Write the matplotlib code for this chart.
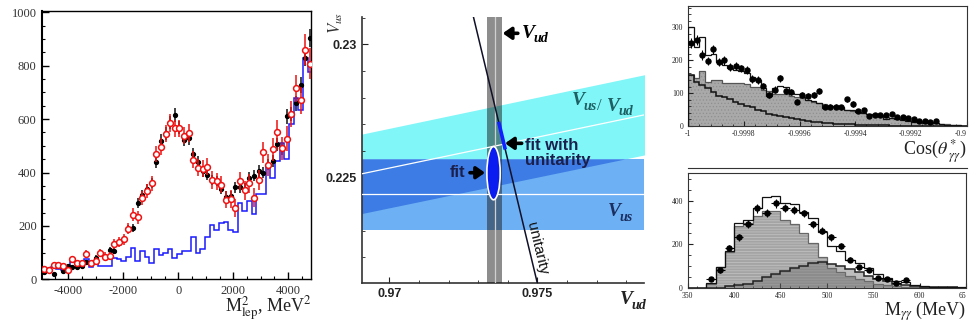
import numpy as np
import matplotlib
matplotlib.use("Agg")
import matplotlib.pyplot as plt
from matplotlib.patches import Ellipse
from matplotlib.ticker import MultipleLocator
from matplotlib.lines import Line2D

plt.rcParams['mathtext.fontset'] = 'stix'
plt.rcParams['axes.unicode_minus'] = False
plt.rcParams['hatch.linewidth'] = 0.5
SERIF = ['Liberation Serif', 'DejaVu Serif']
SANS = ['Liberation Sans', 'DejaVu Sans']

# ---------------- panel 1 : M^2_lep ----------------
lep_first_center = -4873.0
lep_bin_width = 169.5
lep_black = [29, 37, 20, 50, 31, 50, 46, 47, 50, 65, 60, 81, 97, 85, 110, 105, 137, 150, 187, 192,
             285, 316, 337, 361, 438, 519, 547, 587, 615, 568, 522, 528, 468, 441, 405, 392, 372, 368, 338, 310,
             312, 345, 345, 340, 380, 388, 405, 400, 430, 442, 505, 490, 610, 620, 660, 727, 830, 905]
lep_black_err = [6, 7, 5, 8, 7, 8, 8, 8, 8, 9, 9, 10, 11, 10, 11, 11, 13, 13, 15, 15,
                 18, 19, 19, 20, 22, 24, 24, 25, 26, 25, 24, 24, 23, 22, 21, 21, 20, 20, 19, 19,
                 19, 20, 20, 20, 21, 21, 22, 22, 22, 23, 24, 24, 27, 27, 28, 30, 32, 34]
lep_red = [40, 35, 52, 55, 50, 35, 75, 60, 62, 95, 60, 70, 98, 85, 88, 132, 140, 150, 190, 242,
           232, 305, 330, 360, 470, 497, 545, 585, 565, 565, 538, 548, 448, 418, 415, 422, 372, 368, 355, 298,
           300, 268, 368, 333, 360, 305, 372, 475, 428, 487, 553, 490, 527, 620, 715, 670, 860, 808]
lep_red_err = [10, 10, 11, 11, 11, 10, 13, 12, 12, 15, 13, 14, 16, 16, 16, 19, 19, 20, 22, 24,
               24, 26, 27, 28, 30, 31, 32, 33, 33, 33, 33, 34, 32, 32, 32, 33, 32, 32, 32, 32,
               33, 33, 35, 35, 36, 36, 38, 40, 40, 42, 44, 44, 46, 48, 52, 52, 58, 58]
lep_blue = [40, 40, 45, 40, 35, 45, 65, 60, 60, 75, 45, 60, 48, 48, 48, 80, 75, 70, 85, 118,
            68, 105, 85, 60, 112, 92, 98, 112, 80, 95, 105, 105, 158, 100, 115, 160, 205, 185, 210, 215,
            185, 178, 285, 255, 295, 245, 320, 320, 420, 380, 445, 510, 450, 580, 680, 635, 830, 775]

# ---------------- panel 2 : Vud - Vus ----------------
vud_center, vud_halfwidth = 0.97356, 0.00025
vus_center, vus_halfwidth = 0.22436, 0.00133
ratio_center, ratio_halfwidth = 0.23232, 0.00154
fit_vud, fit_vus = 0.97352, 0.22516
fit_vud_size, fit_vus_size = 0.00045, 0.0020
unitarity_vud = [0.97284, 0.97500]
unitarity_vus = [0.23104, 0.22102]
fit_unitarity_vus = [0.22605, 0.22709]
vud_ticks = [0.97, 0.975]
vud_ticklabels = ['0.97', '0.975']
vus_ticks = [0.225, 0.23]
vus_ticklabels = ['0.225', '0.23']

# ---------------- panel 3 : cos(theta*) ----------------
cos_edges = np.linspace(-1.0, -0.999, 51)
cos_total = [302, 240, 272, 215, 218, 195, 185, 175, 170, 168, 160, 150, 140, 115, 92, 115, 122, 118, 100, 98,
             88, 80, 75, 70, 55, 60, 60, 58, 50, 48, 42, 40, 36, 32, 33, 20, 25, 20, 18, 15,
             12, 12, 10, 12, 8, 6, 4, 3, 2, 1]
cos_bkg = [155, 146, 167, 135, 140, 140, 130, 130, 130, 130, 128, 118, 118, 111, 105, 97, 97, 97, 92, 88,
           85, 80, 72, 69, 66, 60, 58, 54, 50, 46, 42, 40, 36, 33, 30, 28, 25, 23, 20, 18,
           16, 14, 12, 10, 9, 7, 5, 4, 2, 1]
cos_sig = [155, 135, 125, 115, 104, 92, 89, 82, 74, 67, 62, 57, 50, 45, 38, 33, 30, 27, 23, 20,
           18, 16, 13, 12, 10, 8, 7, 6, 6, 5, 4, 3, 3, 2, 2, 2, 1, 1, 1, 1,
           1, 1, 0, 0, 0, 0, 0, 0, 0, 0]
cos_data = [253, 261, 216, 198, 233, 194, 200, 180, 182, 175, 170, 143, 140, 122, 94, 111, 145, 106, 104, 74,
            94, 92, 94, 107, 59, 59, 59, 57, 81, 67, 46, 49, 30, 33, 33, 33, 38, 26, 26, 23,
            21, 16, 16, 12, 16]
cos_data_err = [15, 15, 14, 13, 14, 13, 13, 12, 12, 12, 12, 11, 11, 10, 9, 10, 11, 9, 9, 8,
                9, 9, 9, 10, 7, 7, 7, 7, 8, 8, 6, 6, 5, 5, 5, 5, 6, 5, 5, 5,
                4, 4, 4, 3, 4]
cos_ticks = [-1.0, -0.9998, -0.9996, -0.9994, -0.9992, -0.999]
cos_ticklabels = ['-1', '-0.9998', '-0.9996', '-0.9994', '-0.9992', '-0.9']

# ---------------- panel 4 : M_gammagamma ----------------
mgg_edges = np.arange(350, 651, 10)
mgg_total = [0, 0, 23, 94, 170, 296, 312, 368, 418, 422, 392, 385, 350, 319, 258, 190, 170, 129, 111, 88,
             61, 46, 30, 24, 10, 6, 4, 3, 2, 1]
mgg_bkg = [0, 0, 15, 94, 165, 285, 300, 330, 355, 352, 312, 292, 250, 204, 140, 90, 70, 55, 40, 28,
           18, 12, 7, 4, 2, 1, 0, 0, 0, 0]
mgg_sig = [0, 0, 0, 0, 5, 10, 18, 30, 50, 62, 75, 88, 100, 115, 120, 110, 100, 85, 70, 55,
           40, 30, 18, 10, 5, 3, 2, 1, 1, 0]
mgg_data_x = [375, 385, 395, 405, 415, 425, 435, 445, 455, 465, 475, 485, 495, 505, 515, 525, 535, 545,
              555, 565, 575, 585]
mgg_data = [38, 79, 182, 231, 293, 365, 345, 388, 368, 357, 342, 292, 263, 231, 193, 129, 94, 79, 46, 41, 23, 35]
mgg_data_err = [8, 10, 14, 15, 17, 19, 19, 20, 19, 19, 18, 17, 16, 15, 14, 11, 10, 9, 7, 6, 5, 6]
mgg_ticks = [350, 400, 450, 500, 550, 600, 650]
mgg_ticklabels = ['350', '400', '450', '500', '550', '600', '65']

fig = plt.figure(figsize=(9.69, 3.23), dpi=100)

# =============== panel 1 ===============
ax1 = fig.add_axes([0.04365, 0.1353, 0.2776, 0.8306])
lep_x = lep_first_center + lep_bin_width * np.arange(len(lep_black))
lep_edges = np.append(lep_x - lep_bin_width / 2, lep_x[-1] + lep_bin_width / 2)
ax1.stairs(lep_blue, lep_edges, color='#1a1aff', lw=1.1, baseline=None)
ax1.errorbar(lep_x, lep_black, yerr=lep_black_err, fmt='o', ms=2.8, color='black',
             ecolor='#222222', elinewidth=1.2, capsize=0, zorder=3)
ax1.errorbar(lep_x, lep_red, yerr=lep_red_err, fmt='o', ms=4.2, mfc='white', mec='#ee1111',
             mew=1.1, ecolor='#ee1111', elinewidth=1.1, capsize=0, zorder=4)
ax1.set_xlim(-4950, 4840)
ax1.set_ylim(0, 1005)
ax1.yaxis.set_major_locator(MultipleLocator(200))
ax1.yaxis.set_minor_locator(MultipleLocator(50))
ax1.xaxis.set_major_locator(MultipleLocator(2000))
ax1.xaxis.set_minor_locator(MultipleLocator(500))
ax1.tick_params(which='both', direction='in', top=False, right=False, labelsize=9, pad=4)
ax1.tick_params(which='major', length=5, width=1)
ax1.tick_params(which='minor', length=2.5, width=0.8)
for lab in ax1.get_xticklabels() + ax1.get_yticklabels():
    lab.set_family(SERIF)
    lab.set_color('#333333')
for s in ax1.spines.values():
    s.set_linewidth(1.0)
ax1.spines['left'].set_linewidth(1.5)
ax1.text(1.0, -0.112, r'M$^2_{\rm lep}$, MeV$^2$', transform=ax1.transAxes, ha='right', va='center',
         fontsize=13, family=SERIF, color='#222222')

# =============== panel 2 ===============
ax2 = fig.add_axes([0.3733, 0.1229, 0.2913, 0.8254])
x0, x1 = 0.96907, 0.9786
ax2.set_xlim(x0, x1)
ax2.set_ylim(0.22102, 0.23104)
g = np.linspace(x0 - 0.001, x1 + 0.001, 500)
cy_lo = (ratio_center - ratio_halfwidth) * g
cy_hi = (ratio_center + ratio_halfwidth) * g
c_cyan, c_light, c_dark = '#80f6f8', '#6eb0f4', '#3c7ce4'
ax2.fill_between(g, cy_lo, cy_hi, color=c_cyan, lw=0, zorder=1)
ax2.axhspan(vus_center - vus_halfwidth, vus_center + vus_halfwidth, color=c_light, lw=0, zorder=1)
ov_lo = np.maximum(cy_lo, vus_center - vus_halfwidth)
ov_hi = np.minimum(cy_hi, vus_center + vus_halfwidth)
ax2.fill_between(g, ov_lo, ov_hi, where=ov_hi > ov_lo, color=c_dark, lw=0, zorder=2)
ax2.axvspan(vud_center - vud_halfwidth, vud_center + vud_halfwidth, color='#1c1c1c', alpha=0.5, lw=0, zorder=3)
ax2.plot(g, ratio_center * g, color='white', lw=0.9, zorder=4)
ax2.axhline(vus_center, color='white', lw=0.9, zorder=4)
ax2.axvline(vud_center, color='#d0d0d0', lw=0.9, zorder=4)
ax2.add_patch(Ellipse((fit_vud, fit_vus), fit_vud_size, fit_vus_size, facecolor='#0a1cf0',
                      edgecolor='white', lw=1.2, zorder=5))
ax2.axline((unitarity_vud[0], unitarity_vus[0]), (unitarity_vud[1], unitarity_vus[1]),
           color='#101028', lw=1.1, zorder=6)
fu_vud = np.interp(fit_unitarity_vus, unitarity_vus[::-1], unitarity_vud[::-1])
ax2.plot(fu_vud, fit_unitarity_vus, color='#1020ff', lw=2.6, zorder=7, solid_capstyle='butt')
ax2.set_xticks(vud_ticks, vud_ticklabels)
ax2.set_yticks(vus_ticks, vus_ticklabels)
ax2.xaxis.set_minor_locator(MultipleLocator(0.001))
ax2.yaxis.set_minor_locator(MultipleLocator(0.001))
ax2.tick_params(which='both', direction='in', labelsize=9, colors='#222222')
ax2.tick_params(which='major', length=4)
ax2.tick_params(which='minor', length=2.5)
for lab in ax2.get_xticklabels() + ax2.get_yticklabels():
    lab.set_family(SANS)
    lab.set_weight('bold')
ax2.spines['top'].set_visible(False)
ax2.spines['right'].set_visible(False)
for s in ('left', 'bottom'):
    ax2.spines[s].set_linewidth(1.2)
    ax2.spines[s].set_color('#333333')


def vlabel(ax, x, y, sub, size, color):
    t = ax.text(x, y, 'V', transform=ax.transAxes, ha='left', va='center', fontsize=size,
                family=SERIF, style='italic', weight='bold', color=color, zorder=10)
    s = ax.annotate(sub, xy=(0.92, 0.18), xycoords=t, ha='left', va='center', fontsize=size * 0.72,
                    family=SERIF, style='italic', weight='bold', color=color, zorder=10)
    return t, s


arrow_kw = dict(arrowstyle='-|>,head_width=0.35,head_length=0.5', lw=2.6, color='black',
                shrinkA=0, shrinkB=0)
# V_ud at top
vlabel(ax2, 0.567, 0.937, 'ud', 14, 'black')
ax2.annotate('', xy=(0.4995, 0.9377), xytext=(0.553, 0.9377), xycoords='axes fraction',
             arrowprops=arrow_kw, zorder=10)
# Vus / Vud
t, s = vlabel(ax2, 0.745, 0.684, 'us', 14, '#1d5f63')
sl = ax2.annotate('/', xy=(1.0, 0.5), xycoords=s, ha='left', va='center', fontsize=12,
                  family=SERIF, color='#1d5f63', zorder=10)
t2 = ax2.annotate(' V', xy=(1.0, 0.5), xycoords=sl, ha='left', va='center', fontsize=14, family=SERIF,
                  style='italic', weight='bold', color='#1d5f63', zorder=10)
ax2.annotate('ud', xy=(0.95, 0.18), xycoords=t2, ha='left', va='center', fontsize=10, family=SERIF,
             style='italic', weight='bold', color='#1d5f63', zorder=10)
# V_us lower right
vlabel(ax2, 0.8725, 0.2686, 'us', 14, '#1a2f60')
# fit with unitarity
ax2.text(0.5787, 0.4895, 'fit with\nunitarity', transform=ax2.transAxes, ha='left', va='center',
         fontsize=12, family=SANS, weight='bold', color='#1b1f4b', linespacing=1.05, zorder=10)
ax2.annotate('', xy=(0.5076, 0.525), xytext=(0.5666, 0.525), xycoords='axes fraction',
             arrowprops=arrow_kw, zorder=10)
# fit
ax2.text(0.3128, 0.4148, 'fit', transform=ax2.transAxes, ha='left', va='center',
         fontsize=12, family=SANS, weight='bold', color='#1b1f4b', zorder=10)
ax2.annotate('', xy=(0.4368, 0.4148), xytext=(0.3836, 0.4148), xycoords='axes fraction',
             arrowprops=arrow_kw, zorder=10)
# unitarity label along the line
ax2.text(0.620, 0.131, 'unitarity', transform=ax2.transAxes, ha='center', va='center',
         rotation=-76.5, fontsize=11, family=SANS, color='#111111', zorder=10)
# axis labels
vlabel(ax2, 0.913, -0.062, 'ud', 14, '#222222')
ax2.text(-0.092, 0.975, r'$V_{us}$', transform=ax2.transAxes, ha='center', va='center',
         rotation=90, fontsize=12, color='#333333')

# =============== panel 3 ===============
ax3 = fig.add_axes([0.7103, 0.6099, 0.2873, 0.3715])
ax3.stairs(cos_bkg, cos_edges, fill=True, facecolor='#a9a9a9', edgecolor='#8f8f8f', hatch='.....',
           lw=0, zorder=1)
ax3.stairs(cos_bkg, cos_edges, color='#555555', lw=0.9, zorder=2)
ax3.stairs(cos_sig, cos_edges, color='#111111', lw=1.1, zorder=3)
ax3.stairs(cos_total, cos_edges, color='#111111', lw=0.9, zorder=3)
cos_x = 0.5 * (cos_edges[:-1] + cos_edges[1:])[:len(cos_data)]
ax3.errorbar(cos_x, cos_data, yerr=cos_data_err, xerr=0.000006, fmt='o', ms=3.6, color='black',
             elinewidth=0.8, capsize=0, zorder=5)
ax3.set_xlim(-1.0, -0.999)
ax3.set_ylim(0, 365)
ax3.set_xticks(cos_ticks, cos_ticklabels)
ax3.get_xticklabels()[-1].set_horizontalalignment('right')
ax3.xaxis.set_minor_locator(MultipleLocator(0.00004))
ax3.yaxis.set_major_locator(MultipleLocator(100))
ax3.yaxis.set_minor_locator(MultipleLocator(20))
ax3.tick_params(which='both', direction='in', labelsize=5.5, colors='#222222')
ax3.tick_params(axis='x', pad=3)
ax3.tick_params(axis='y', pad=3.5)
ax3.tick_params(which='major', length=3.5)
ax3.tick_params(which='minor', length=1.8)
for lab in ax3.get_xticklabels() + ax3.get_yticklabels():
    lab.set_family(SERIF)
for s in ax3.spines.values():
    s.set_linewidth(0.8)
    s.set_color('#333333')
ax3.text(1.0, -0.21, r'Cos($\theta^*_{\ \gamma\gamma}$)', transform=ax3.transAxes, ha='right',
         va='center', fontsize=13, family=SERIF, color='#222222')
fig.add_artist(Line2D([0.7103, 0.998], [1 - 168.3 / 323, 1 - 168.3 / 323], color='#333333', lw=0.8))

# =============== panel 4 ===============
ax4 = fig.add_axes([0.7097, 0.1099, 0.2872, 0.3554])
ax4.stairs(mgg_bkg, mgg_edges, fill=True, facecolor='#a4a4a4', edgecolor='#c4c4c4', hatch='------',
           lw=0, zorder=1)
ax4.stairs(mgg_bkg, mgg_edges, color='#666666', lw=0.9, zorder=2)
ax4.stairs(mgg_sig, mgg_edges, fill=True, facecolor='#707070', alpha=0.45, lw=0, zorder=3)
ax4.stairs(mgg_sig, mgg_edges, color='#222222', lw=1.1, zorder=4)
ax4.stairs(mgg_total, mgg_edges, color='#111111', lw=0.9, zorder=4)
ax4.errorbar(mgg_data_x, mgg_data, yerr=mgg_data_err, xerr=5, fmt='o', ms=3.6, color='black',
             elinewidth=0.8, capsize=0, zorder=5)
ax4.set_xlim(350, 650)
ax4.set_ylim(0, 530)
ax4.set_xticks(mgg_ticks, mgg_ticklabels)
ax4.get_xticklabels()[-1].set_horizontalalignment('right')
ax4.xaxis.set_minor_locator(MultipleLocator(10))
ax4.yaxis.set_major_locator(MultipleLocator(200))
ax4.yaxis.set_minor_locator(MultipleLocator(50))
ax4.tick_params(which='both', direction='in', labelsize=5.5, colors='#222222')
ax4.tick_params(axis='x', pad=3)
ax4.tick_params(axis='y', pad=3.5)
ax4.tick_params(which='major', length=3.5)
ax4.tick_params(which='minor', length=1.8)
for lab in ax4.get_xticklabels() + ax4.get_yticklabels():
    lab.set_family(SERIF)
for s in ax4.spines.values():
    s.set_linewidth(0.8)
    s.set_color('#333333')
ax4.text(1.0, -0.21, r'M$_{\gamma\gamma}$ (MeV)', transform=ax4.transAxes, ha='right',
         va='center', fontsize=13, family=SERIF, color='#222222')

fig.savefig('out.png', dpi=100)
